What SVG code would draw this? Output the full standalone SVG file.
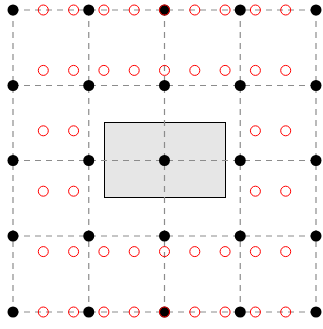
<svg xmlns="http://www.w3.org/2000/svg" width="323" height="329" viewBox="0 0 323 329">
<style>
.grid{stroke:#8c8c8c;stroke-width:1.2;stroke-dasharray:6,5;fill:none}
.box{fill:#e6e6e6;stroke:#000;stroke-width:1}
.pt{fill:#000}
.rc{fill:none;stroke:#f00;stroke-width:1}
</style>
<rect width="323" height="329" fill="#fff"/>
<g id="box"><rect class="box" x="104.5" y="122.5" width="121" height="75"/></g>
<g id="connectors">
<line class="grid" x1="13" y1="10" x2="316" y2="10"/>
<line class="grid" x1="13" y1="85.5" x2="316" y2="85.5"/>
<line class="grid" x1="13" y1="160.5" x2="316" y2="160.5"/>
<line class="grid" x1="13" y1="236" x2="316" y2="236"/>
<line class="grid" x1="13" y1="312" x2="316" y2="312"/>
<line class="grid" x1="13" y1="10" x2="13" y2="312"/>
<line class="grid" x1="88.75" y1="10" x2="88.75" y2="312"/>
<line class="grid" x1="164.5" y1="10" x2="164.5" y2="312"/>
<line class="grid" x1="240.25" y1="10" x2="240.25" y2="312"/>
<line class="grid" x1="316" y1="10" x2="316" y2="312"/>
</g>
<g id="black-points">
<circle class="pt" cx="13" cy="10" r="5.5"/><circle class="pt" cx="88.75" cy="10" r="5.5"/><circle class="pt" cx="164.5" cy="10" r="5.5"/><circle class="pt" cx="240.25" cy="10" r="5.5"/><circle class="pt" cx="316" cy="10" r="5.5"/>
<circle class="pt" cx="13" cy="85.5" r="5.5"/><circle class="pt" cx="88.75" cy="85.5" r="5.5"/><circle class="pt" cx="164.5" cy="85.5" r="5.5"/><circle class="pt" cx="240.25" cy="85.5" r="5.5"/><circle class="pt" cx="316" cy="85.5" r="5.5"/>
<circle class="pt" cx="13" cy="160.5" r="5.5"/><circle class="pt" cx="88.75" cy="160.5" r="5.5"/><circle class="pt" cx="164.5" cy="160.5" r="5.5"/><circle class="pt" cx="240.25" cy="160.5" r="5.5"/><circle class="pt" cx="316" cy="160.5" r="5.5"/>
<circle class="pt" cx="13" cy="236" r="5.5"/><circle class="pt" cx="88.75" cy="236" r="5.5"/><circle class="pt" cx="164.5" cy="236" r="5.5"/><circle class="pt" cx="240.25" cy="236" r="5.5"/><circle class="pt" cx="316" cy="236" r="5.5"/>
<circle class="pt" cx="13" cy="312" r="5.5"/><circle class="pt" cx="88.75" cy="312" r="5.5"/><circle class="pt" cx="164.5" cy="312" r="5.5"/><circle class="pt" cx="240.25" cy="312" r="5.5"/><circle class="pt" cx="316" cy="312" r="5.5"/>
</g>
<g id="red-points">
<circle class="rc" cx="43.3" cy="10" r="5"/><circle class="rc" cx="73.6" cy="10" r="5"/><circle class="rc" cx="103.9" cy="10" r="5"/><circle class="rc" cx="134.2" cy="10" r="5"/><circle class="rc" cx="164.5" cy="10" r="5"/><circle class="rc" cx="194.8" cy="10" r="5"/><circle class="rc" cx="225.1" cy="10" r="5"/><circle class="rc" cx="255.4" cy="10" r="5"/><circle class="rc" cx="285.7" cy="10" r="5"/>
<circle class="rc" cx="43.3" cy="70.4" r="5"/><circle class="rc" cx="73.6" cy="70.4" r="5"/><circle class="rc" cx="103.9" cy="70.4" r="5"/><circle class="rc" cx="134.2" cy="70.4" r="5"/><circle class="rc" cx="164.5" cy="70.4" r="5"/><circle class="rc" cx="194.8" cy="70.4" r="5"/><circle class="rc" cx="225.1" cy="70.4" r="5"/><circle class="rc" cx="255.4" cy="70.4" r="5"/><circle class="rc" cx="285.7" cy="70.4" r="5"/>
<circle class="rc" cx="43.3" cy="130.8" r="5"/><circle class="rc" cx="73.6" cy="130.8" r="5"/><circle class="rc" cx="255.4" cy="130.8" r="5"/><circle class="rc" cx="285.7" cy="130.8" r="5"/>
<circle class="rc" cx="43.3" cy="191.2" r="5"/><circle class="rc" cx="73.6" cy="191.2" r="5"/><circle class="rc" cx="255.4" cy="191.2" r="5"/><circle class="rc" cx="285.7" cy="191.2" r="5"/>
<circle class="rc" cx="43.3" cy="251.6" r="5"/><circle class="rc" cx="73.6" cy="251.6" r="5"/><circle class="rc" cx="103.9" cy="251.6" r="5"/><circle class="rc" cx="134.2" cy="251.6" r="5"/><circle class="rc" cx="164.5" cy="251.6" r="5"/><circle class="rc" cx="194.8" cy="251.6" r="5"/><circle class="rc" cx="225.1" cy="251.6" r="5"/><circle class="rc" cx="255.4" cy="251.6" r="5"/><circle class="rc" cx="285.7" cy="251.6" r="5"/>
<circle class="rc" cx="43.3" cy="312" r="5"/><circle class="rc" cx="73.6" cy="312" r="5"/><circle class="rc" cx="103.9" cy="312" r="5"/><circle class="rc" cx="134.2" cy="312" r="5"/><circle class="rc" cx="164.5" cy="312" r="5"/><circle class="rc" cx="194.8" cy="312" r="5"/><circle class="rc" cx="225.1" cy="312" r="5"/><circle class="rc" cx="255.4" cy="312" r="5"/><circle class="rc" cx="285.7" cy="312" r="5"/>
</g>
</svg>
